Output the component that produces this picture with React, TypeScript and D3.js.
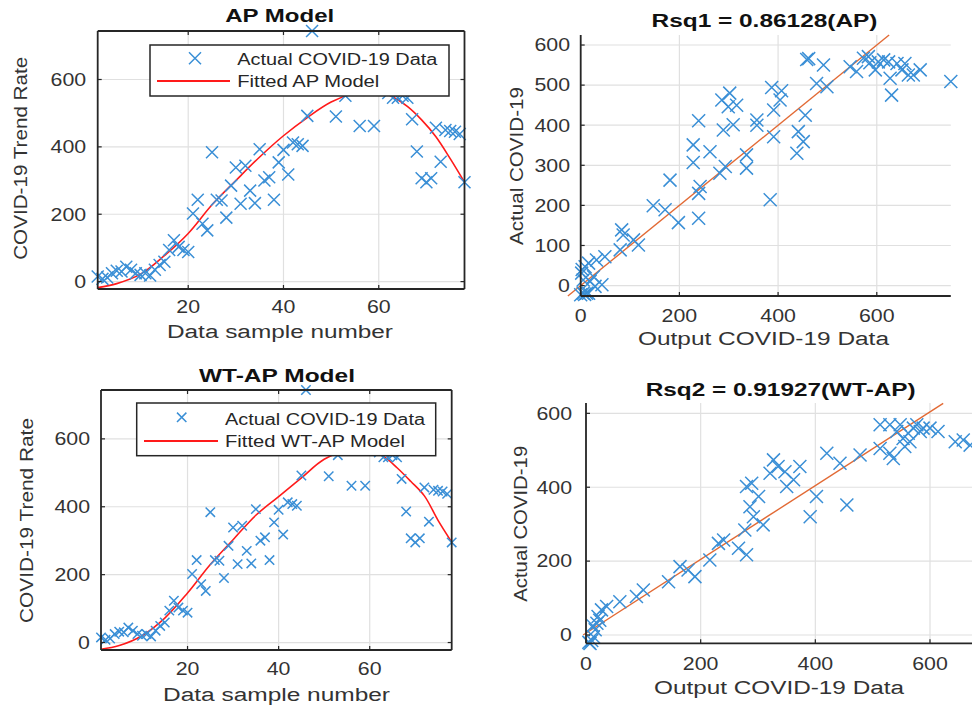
import React from "react";
import * as d3 from "d3";

// ---- time series (actual data, same in both left panels) ----
const actualCovid = [
  15, 8, 12, 25, 32, 30, 44, 35, 25, 20, 25, 18, 35, 49, 59, 94, 123, 103, 94, 88,
  202, 243, 172, 152, 384, 243, 241, 190, 285, 339, 231, 344, 270, 233, 393, 300, 310, 243, 354, 391,
  318, 413, 408, 403, 492, 744, 590, 600, 585, 570, 490, 575, 552, 590, 600, 462, 580, 600, 462, 570,
  600, 560, 546, 546, 552, 546, 482, 386, 307, 295, 307, 457, 356, 450, 447, 445, 438, 295,
];
const sampleNo = actualCovid.map((_, i) => i + 1);

const fitSamples = [1, 5, 10, 15, 20, 25, 30, 35, 40, 45, 50, 55, 58, 61, 63, 66, 69, 72, 75, 78];
const apFit = [-18, -6, 22, 77, 143, 228, 300, 370, 433, 487, 533, 560, 566, 560, 548, 520, 480, 430, 365, 295];
const wtFit = [-20, -9, 20, 72, 146, 230, 303, 375, 430, 485, 540, 565, 568, 560, 549, 515, 475, 432, 360, 296];

// ---- regression scatter: AP ----
const apOutput = [
  458, 462, 492, 478, 499, 387, 407, 404, 391, 455, 441, 451, 438, 391, 384, 286, 302, 299, 316, 309,
  289, 239, 228, 228, 262, 293, 282, 336, 357, 357, 336, 242, 239, 239, 181, 147, 171, 198, 83, 86,
  107, 117, 80, 546, 559, 573, 583, 586, 597, 603, 614, 624, 627, 630, 641, 651, 657, 664, 674, 688,
  750, 5, 0, 12, 9, 16, 2, 5, 19, 29, 43, 26, 32, 49, 16, 8, 3,
];
const apActual = [
  564, 566, 550, 504, 496, 494, 486, 463, 438, 425, 384, 359, 330, 371, 214, 463, 480, 446, 450, 401,
  388, 411, 351, 307, 334, 297, 280, 326, 413, 400, 293, 247, 230, 168, 263, 199, 189, 157, 139, 126,
  114, 101, 89, 546, 534, 567, 571, 556, 538, 558, 563, 558, 517, 475, 554, 538, 554, 525, 525, 538,
  509, -19, -23, -19, 47, 56, 31, 14, 10, -2, 2, 22, 64, 72, -19, -22, 40,
];
const apRegX = [-26, 625];
const apRegY = [-26, 625];

// ---- regression scatter: WT-AP ----
const wtOutput = [
  7, 13, 16, 19, 21, 27, 36, 59, 88, 100, 144, 164, 178, 190, 216, 231, 240, 266, 280, 277,
  280, 289, 286, 292, 301, 309, 321, 327, 335, 350, 362, 373, 347, 391, 402, 420, 443, 455, 478, 513,
  530, 536, 513, 530, 548, 542, 553, 562, 571, 577, 583, 588, 600, 614, 644, 658, 670, 565, 556, 700,
  720, 740, 5, 10, 24, 12,
];
const wtActual = [
  -23, -5, 14, 32, 50, 68, 77, 90, 104, 122, 144, 185, 176, 158, 203, 248, 257, 235, 217, 284,
  402, 411, 347, 320, 375, 298, 438, 474, 456, 402, 420, 456, 442, 320, 375, 492, 465, 352, 487, 505,
  492, 478, 569, 569, 569, 551, 532, 546, 560, 569, 551, 560, 560, 551, 523, 528, 514, 523, 510, 530,
  520, 515, -20, -15, 40, 25,
];
const wtRegX = [-5, 623];
const wtRegY = [0, 627];

const FONT = "'Liberation Sans', Arial, Helvetica, sans-serif";
const AXIS = "#262626";
const GRID = "#e0e0e0";
const BLUE = "#3a8fd6";
const RED = "#ff1a1a";
const ORANGE = "#e26a35";

type Pt = [number, number];

function Cross({ x, y, r }: { x: number; y: number; r: number }) {
  return (
    <path
      d={`M${x - r},${y - r}L${x + r},${y + r}M${x - r},${y + r}L${x + r},${y - r}`}
      stroke={BLUE}
      strokeWidth={1.5}
      fill="none"
    />
  );
}

function Panel(p: any) {
  const { l, r, t, b } = p.box;
  const xs = d3.scaleLinear().domain(p.xDomain).range([l, r]);
  const ys = d3.scaleLinear().domain(p.yDomain).range([b, t]);
  const line = d3
    .line<Pt>()
    .x((d) => xs(d[0]))
    .y((d) => ys(d[1]))
    .curve(p.smooth ? d3.curveCatmullRom : d3.curveLinear);
  const tk = 4;
  return (
    <g fontFamily={FONT}>
      {/* grid */}
      {p.yTicks.map((v: number) => (
        <line key={"gy" + v} x1={l} x2={r} y1={ys(v)} y2={ys(v)} stroke={GRID} strokeWidth={1.2} />
      ))}
      {p.xTicks.map((v: number) => (
        <line key={"gx" + v} x1={xs(v)} x2={xs(v)} y1={t} y2={b} stroke={GRID} strokeWidth={1.2} />
      ))}
      {/* fitted line */}
      <path d={line(p.fit) || ""} fill="none" stroke={p.fitColor} strokeWidth={p.fitWidth} />
      {/* markers */}
      {p.points.map((d: Pt, i: number) => (
        <Cross key={i} x={xs(d[0])} y={ys(d[1])} r={p.markerR} />
      ))}
      {/* axes */}
      <line x1={l} x2={l} y1={t} y2={b} stroke={AXIS} strokeWidth={1.8} />
      <line x1={l} x2={r} y1={b} y2={b} stroke={AXIS} strokeWidth={1.8} />
      {p.boxed && (
        <g>
          <line x1={r} x2={r} y1={t} y2={b} stroke={AXIS} strokeWidth={1.8} />
          <line x1={l} x2={r} y1={t} y2={t} stroke={AXIS} strokeWidth={1.8} />
        </g>
      )}
      {p.yTicks.map((v: number) => (
        <g key={"ty" + v}>
          <line x1={l} x2={l + tk} y1={ys(v)} y2={ys(v)} stroke={AXIS} strokeWidth={1.2} />
          {p.boxed && <line x1={r} x2={r - tk} y1={ys(v)} y2={ys(v)} stroke={AXIS} strokeWidth={1.2} />}
          <text
            transform={`translate(${l - p.yLabelGap},${ys(v)}) scale(1.22,1)`}
            textAnchor="end"
            dy="0.36em"
            fontSize={17.5}
            fill="#333"
          >
            {v}
          </text>
        </g>
      ))}
      {p.xTicks.map((v: number) => (
        <g key={"tx" + v}>
          <line x1={xs(v)} x2={xs(v)} y1={b} y2={b - tk} stroke={AXIS} strokeWidth={1.2} />
          {p.boxed && <line x1={xs(v)} x2={xs(v)} y1={t} y2={t + tk} stroke={AXIS} strokeWidth={1.2} />}
          <text
            transform={`translate(${xs(v)},${b + p.xLabelGap}) scale(1.22,1)`}
            textAnchor="middle"
            fontSize={17.5}
            fill="#333"
          >
            {v}
          </text>
        </g>
      ))}
      {/* legend */}
      {p.legend && (
        <g>
          <rect
            x={p.legend.x}
            y={p.legend.y}
            width={p.legend.w}
            height={p.legend.h}
            fill="#fff"
            stroke={AXIS}
            strokeWidth={1.5}
          />
          <Cross x={p.legend.mx} y={p.legend.my} r={p.markerR} />
          <line x1={p.legend.lx1} x2={p.legend.lx2} y1={p.legend.ly} y2={p.legend.ly} stroke={RED} strokeWidth={2} />
          <text x={p.legend.tx} y={p.legend.ty1} fontSize={16} fill="#262626" textLength={200} lengthAdjust="spacingAndGlyphs">
            Actual COVID-19 Data
          </text>
          <text x={p.legend.tx} y={p.legend.ty2} fontSize={16} fill="#262626" textLength={p.legend.len2} lengthAdjust="spacingAndGlyphs">
            {p.legend.label2}
          </text>
        </g>
      )}
      {/* title + labels */}
      <text
        x={p.title.x}
        y={p.title.y}
        textAnchor="middle"
        fontWeight="bold"
        fontSize={18}
        fill="#111"
        textLength={p.title.len}
        lengthAdjust="spacingAndGlyphs"
      >
        {p.title.text}
      </text>
      <text
        x={p.xlab.x}
        y={p.xlab.y}
        textAnchor="middle"
        fontSize={18}
        fill="#333"
        textLength={p.xlab.len}
        lengthAdjust="spacingAndGlyphs"
      >
        {p.xlab.text}
      </text>
      <text
        transform={`translate(${p.ylab.x},${p.ylab.y}) rotate(-90)`}
        textAnchor="middle"
        fontSize={18}
        fill="#333"
        textLength={p.ylab.len}
        lengthAdjust="spacingAndGlyphs"
      >
        {p.ylab.text}
      </text>
    </g>
  );
}

export default function App() {
  const series: Pt[] = sampleNo.map((s, i) => [s, actualCovid[i]]);
  const apCurve: Pt[] = fitSamples.map((s, i) => [s, apFit[i]]);
  const wtCurve: Pt[] = fitSamples.map((s, i) => [s, wtFit[i]]);
  const apPts: Pt[] = apOutput.map((v, i) => [v, apActual[i]]);
  const wtPts: Pt[] = wtOutput.map((v, i) => [v, wtActual[i]]);
  const apReg: Pt[] = apRegX.map((v, i) => [v, apRegY[i]]);
  const wtReg: Pt[] = wtRegX.map((v, i) => [v, wtRegY[i]]);

  return (
    <svg
      width={972}
      height={709}
      style={{ position: "absolute", left: 0, top: 0, background: "#fff", display: "block" }}
    >
      <rect width={972} height={709} fill="#fff" />
      <Panel
        box={{ l: 97.7, r: 464.5, t: 31, b: 289 }}
        xDomain={[1, 78]}
        yDomain={[-22, 744]}
        xTicks={[20, 40, 60]}
        yTicks={[0, 200, 400, 600]}
        boxed
        smooth
        points={series}
        markerR={6}
        fit={apCurve}
        fitColor={RED}
        fitWidth={1.6}
        yLabelGap={11.5}
        xLabelGap={24}
        legend={{
          x: 150, y: 45, w: 299, h: 51, mx: 195, my: 58.3,
          lx1: 157, lx2: 230, ly: 81, tx: 237.3, ty1: 65, ty2: 86.5,
          label2: "Fitted AP Model", len2: 142,
        }}
        title={{ text: "AP Model", x: 279.7, y: 21.7, len: 109 }}
        xlab={{ text: "Data sample number", x: 280, y: 338, len: 226 }}
        ylab={{ text: "COVID-19 Trend Rate", x: 26.5, y: 158.3, len: 203 }}
      />
      <Panel
        box={{ l: 580.7, r: 950.8, t: 35, b: 296 }}
        xDomain={[0, 750]}
        yDomain={[-26, 625]}
        xTicks={[0, 200, 400, 600]}
        yTicks={[0, 100, 200, 300, 400, 500, 600]}
        points={apPts}
        markerR={6.5}
        fit={apReg}
        fitColor={ORANGE}
        fitWidth={1.4}
        yLabelGap={10.7}
        xLabelGap={25.5}
        title={{ text: "Rsq1 = 0.86128(AP)", x: 764.5, y: 26.7, len: 226 }}
        xlab={{ text: "Output COVID-19 Data", x: 763.5, y: 345, len: 251 }}
        ylab={{ text: "Actual COVID-19", x: 523, y: 166, len: 158 }}
      />
      <Panel
        box={{ l: 101, r: 451.7, t: 390, b: 650 }}
        xDomain={[1, 78]}
        yDomain={[-22, 744]}
        xTicks={[20, 40, 60]}
        yTicks={[0, 200, 400, 600]}
        boxed
        smooth
        points={series}
        markerR={4.7}
        fit={wtCurve}
        fitColor={RED}
        fitWidth={1.6}
        yLabelGap={11}
        xLabelGap={25}
        legend={{
          x: 136.7, y: 403, w: 299, h: 52.7, mx: 181.7, my: 417.3,
          lx1: 144, lx2: 218, ly: 441, tx: 225, ty1: 425, ty2: 446.7,
          label2: "Fitted WT-AP Model", len2: 180,
        }}
        title={{ text: "WT-AP Model", x: 277, y: 381.7, len: 156 }}
        xlab={{ text: "Data sample number", x: 276.5, y: 700.7, len: 227 }}
        ylab={{ text: "COVID-19 Trend Rate", x: 33, y: 520.5, len: 205 }}
      />
      <Panel
        box={{ l: 586, r: 1016, t: 403, b: 643.3 }}
        xDomain={[0, 750]}
        yDomain={[-22.5, 628]}
        xTicks={[0, 200, 400, 600]}
        yTicks={[0, 200, 400, 600]}
        points={wtPts}
        markerR={6.5}
        fit={wtReg}
        fitColor={ORANGE}
        fitWidth={1.4}
        yLabelGap={14}
        xLabelGap={26.7}
        title={{ text: "Rsq2 = 0.91927(WT-AP)", x: 780.7, y: 396, len: 270 }}
        xlab={{ text: "Output COVID-19 Data", x: 779, y: 693.5, len: 250 }}
        ylab={{ text: "Actual COVID-19", x: 526.5, y: 523.8, len: 156 }}
      />
    </svg>
  );
}
